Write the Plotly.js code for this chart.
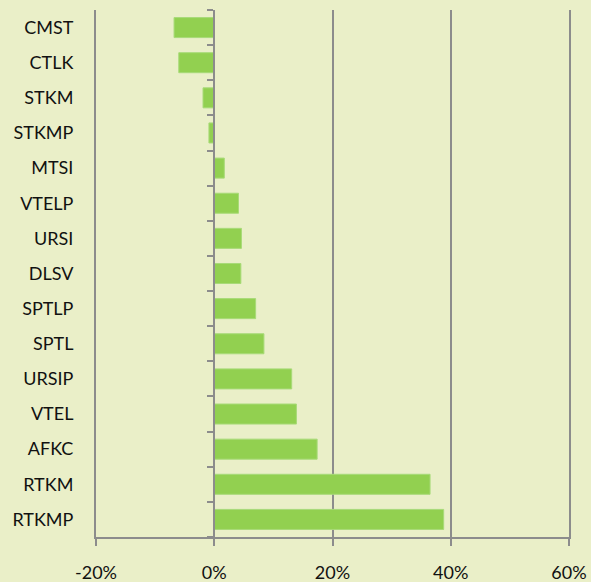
<!DOCTYPE html>
<html>
<head>
<meta charset="utf-8">
<script src="https://cdn.plot.ly/plotly-3.0.1.min.js"></script>
<style>html,body{margin:0;padding:0;background:#EAEFC8;}#chart{width:591px;height:582px;}</style>
</head>
<body>
<div id="chart"></div>
<script>
// Categories, top to bottom
var categories = ["CMST","CTLK","STKM","STKMP","MTSI","VTELP","URSI","DLSV","SPTLP","SPTL","URSIP","VTEL","AFKC","RTKM","RTKMP"];
// Values in percent
var values = [-6.8, -6.0, -1.9, -0.9, 1.7, 4.1, 4.6, 4.5, 7.0, 8.4, 13.1, 13.9, 17.4, 36.5, 38.8];
var xTickVals = [-20, 0, 20, 40, 60];
var xTickText = ["-20%", "0%", "20%", "40%", "60%"];

var bg = "#EAEFC8";
var gridCol = "#8C8C8C";
var n = categories.length;
var boundaries = [];
for (var i = 0; i <= n; i++) boundaries.push(i - 0.5);

var traces = [
  {
    type: "bar",
    orientation: "h",
    y: categories,
    x: values,
    marker: {color: "#92D050", line: {color: "#A8DA78", width: 1}},
    hoverinfo: "skip",
    showlegend: false
  },
  {
    type: "scatter",
    mode: "markers",
    x: [0],
    y: [0],
    yaxis: "y2",
    marker: {opacity: 0},
    hoverinfo: "skip",
    showlegend: false
  }
];

var layout = {
  width: 591,
  height: 582,
  margin: {l: 96, r: 22, t: 10, b: 45},
  paper_bgcolor: bg,
  plot_bgcolor: bg,
  bargap: 0.43,
  font: {family: "Lato, 'Open Sans', sans-serif", size: 18, color: "#111111"},
  xaxis: {
    range: [-20, 60],
    tickmode: "array",
    tickvals: xTickVals,
    ticktext: xTickText,
    showgrid: true,
    gridcolor: gridCol,
    gridwidth: 2,
    zeroline: false,
    showline: true,
    linecolor: gridCol,
    linewidth: 2,
    ticks: "outside",
    ticklen: 7,
    tickwidth: 2,
    tickcolor: gridCol,
    ticklabelstandoff: 11,
    fixedrange: true
  },
  yaxis: {
    type: "category",
    categoryorder: "array",
    categoryarray: categories,
    range: [n - 0.5, -0.5],
    showgrid: false,
    zeroline: false,
    showline: true,
    mirror: true,
    linecolor: gridCol,
    linewidth: 2,
    ticks: "",
    ticklabelstandoff: 17,
    fixedrange: true
  },
  yaxis2: {
    type: "linear",
    overlaying: "y",
    anchor: "free",
    position: 0.25,
    side: "left",
    range: [n - 0.5, -0.5],
    tickvals: boundaries,
    showticklabels: false,
    ticks: "outside",
    ticklen: 6,
    tickwidth: 2,
    tickcolor: gridCol,
    showgrid: false,
    zeroline: false,
    showline: true,
    linecolor: gridCol,
    linewidth: 2,
    fixedrange: true
  }
};

Plotly.newPlot("chart", traces, layout, {displayModeBar: false, staticPlot: true});
</script>
</body>
</html>
